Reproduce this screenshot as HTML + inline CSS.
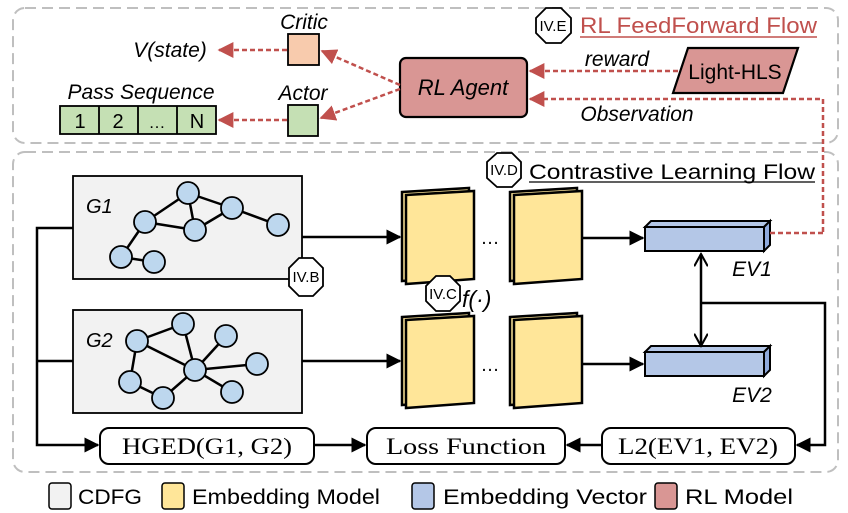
<!DOCTYPE html>
<html><head><meta charset="utf-8"><style>
html,body{margin:0;padding:0;background:#fff;}
svg{display:block;}
text{font-family:"Liberation Sans",sans-serif;}
.s{font-family:"Liberation Serif",serif;}
</style></head><body>
<svg width="848" height="513" viewBox="0 0 848 513" xmlns="http://www.w3.org/2000/svg">
<defs>
<marker id="ar" viewBox="0 0 10 10" refX="9" refY="5" markerWidth="16" markerHeight="16" markerUnits="userSpaceOnUse" orient="auto"><path d="M0,0 L10,5 L0,10 z" fill="#c0504d"/></marker>
<marker id="ab" viewBox="0 0 10 10" refX="9" refY="5" markerWidth="15" markerHeight="15" markerUnits="userSpaceOnUse" orient="auto"><path d="M0,0 L10,5 L0,10 z" fill="#000"/></marker>
<marker id="ao" viewBox="0 0 10 10" refX="9" refY="5" markerWidth="14" markerHeight="14" markerUnits="userSpaceOnUse" orient="auto"><path d="M0,0 L9,5 L0,10" fill="none" stroke="#000" stroke-width="1.5"/></marker>
</defs>
<rect x="13" y="8" width="825" height="135" rx="12" fill="none" stroke="#bfbfbf" stroke-width="2" stroke-dasharray="11,6"/>
<rect x="13" y="152" width="825" height="320" rx="12" fill="none" stroke="#bfbfbf" stroke-width="2" stroke-dasharray="11,6"/>

<polygon points="546,8 561,8 571,18 571,33 561,43 546,43 536,33 536,18" fill="#fff" stroke="#000" stroke-width="1.8"/>
<text x="553" y="31" font-size="15" text-anchor="middle">IV.E</text>
<text x="580" y="33" font-size="22" fill="#c0504d" textLength="237" lengthAdjust="spacingAndGlyphs">RL FeedForward Flow</text>
<line x1="580" y1="37" x2="817" y2="37" stroke="#c0504d" stroke-width="1.5"/>

<rect x="400" y="58" width="127" height="59" rx="6" fill="#d99694" stroke="#000" stroke-width="2.2"/>
<text x="463" y="95" font-size="22" font-style="italic" text-anchor="middle">RL Agent</text>
<polygon points="688,48 798,48 783,93 673,93" fill="#d99694" stroke="#000" stroke-width="2.2"/>
<text x="735" y="79" font-size="21" text-anchor="middle">Light-HLS</text>
<line x1="678" y1="71" x2="530" y2="71" stroke="#c0504d" stroke-width="2.5" stroke-dasharray="5,3" marker-end="url(#ar)"/>
<text x="617" y="66" font-size="21" font-style="italic" text-anchor="middle">reward</text>
<polyline points="823,232 823,99 530,99" fill="none" stroke="#c0504d" stroke-width="2.5" stroke-dasharray="5,3" marker-end="url(#ar)"/>
<text x="637" y="121" font-size="21" font-style="italic" text-anchor="middle">Observation</text>

<rect x="288" y="34" width="31" height="31" fill="#f8cbad" stroke="#000" stroke-width="1.8"/>
<text x="304" y="29" font-size="21" font-style="italic" text-anchor="middle">Critic</text>
<rect x="288" y="105" width="30" height="31" fill="#c5e0b4" stroke="#000" stroke-width="1.8"/>
<text x="303" y="100" font-size="21" font-style="italic" text-anchor="middle">Actor</text>
<line x1="400" y1="85" x2="322" y2="51" stroke="#c0504d" stroke-width="2.5" stroke-dasharray="5,3" marker-end="url(#ar)"/>
<line x1="400" y1="89" x2="321" y2="118" stroke="#c0504d" stroke-width="2.5" stroke-dasharray="5,3" marker-end="url(#ar)"/>
<line x1="287" y1="50" x2="219" y2="50" stroke="#c0504d" stroke-width="2.5" stroke-dasharray="5,3" marker-end="url(#ar)"/>
<line x1="287" y1="120" x2="219" y2="120" stroke="#c0504d" stroke-width="2.5" stroke-dasharray="5,3" marker-end="url(#ar)"/>
<text x="170" y="57" font-size="21" font-style="italic" text-anchor="middle">V(state)</text>
<text x="141" y="99" font-size="21" font-style="italic" text-anchor="middle">Pass Sequence</text>
<rect x="60" y="106" width="156" height="28" fill="#c5e0b4" stroke="#000" stroke-width="1.8"/>
<line x1="99" y1="106" x2="99" y2="134" stroke="#000" stroke-width="1.8"/>
<line x1="138" y1="106" x2="138" y2="134" stroke="#000" stroke-width="1.8"/>
<line x1="177" y1="106" x2="177" y2="134" stroke="#000" stroke-width="1.8"/>
<text x="80" y="128" font-size="20" text-anchor="middle">1</text>
<text x="118" y="128" font-size="20" text-anchor="middle">2</text>
<text x="157" y="128" font-size="17" text-anchor="middle">…</text>
<text x="197" y="128" font-size="20" text-anchor="middle">N</text>

<polygon points="497,153 512,153 521,162 521,178 512,187 497,187 487,178 487,162" fill="#fff" stroke="#000" stroke-width="1.8"/>
<text x="504" y="175" font-size="15" text-anchor="middle">IV.D</text>
<text x="529" y="179" font-size="21" textLength="286" lengthAdjust="spacingAndGlyphs">Contrastive Learning Flow</text>
<line x1="529" y1="182" x2="815" y2="182" stroke="#000" stroke-width="1.2"/>

<rect x="73" y="176" width="229" height="103" fill="#f2f2f2" stroke="#000" stroke-width="1.8"/>
<rect x="73" y="310" width="229" height="103" fill="#f2f2f2" stroke="#000" stroke-width="1.8"/>
<text x="86" y="213" font-size="20" font-style="italic">G1</text>
<text x="86" y="347" font-size="20" font-style="italic">G2</text>
<g stroke="#000" stroke-width="2.5">
<line x1="145" y1="222" x2="188" y2="193"/><line x1="188" y1="193" x2="195" y2="230"/><line x1="145" y1="222" x2="195" y2="230"/>
<line x1="188" y1="193" x2="232" y2="208"/><line x1="195" y1="230" x2="232" y2="208"/><line x1="232" y1="208" x2="278" y2="225"/>
<line x1="145" y1="222" x2="121" y2="257"/><line x1="121" y1="257" x2="154" y2="262"/>
<line x1="137" y1="341" x2="183" y2="324"/><line x1="137" y1="341" x2="195" y2="370"/><line x1="183" y1="324" x2="195" y2="370"/>
<line x1="195" y1="370" x2="226" y2="336"/><line x1="195" y1="370" x2="257" y2="364"/><line x1="195" y1="370" x2="232" y2="392"/>
<line x1="137" y1="341" x2="130" y2="382"/><line x1="130" y1="382" x2="163" y2="398"/><line x1="163" y1="398" x2="195" y2="370"/>
</g>
<g fill="#bdd7ee" stroke="#000" stroke-width="1.8">
<circle cx="188" cy="193" r="11"/><circle cx="145" cy="222" r="11"/><circle cx="195" cy="230" r="11"/><circle cx="232" cy="208" r="11"/><circle cx="278" cy="225" r="11"/><circle cx="121" cy="257" r="11"/><circle cx="154" cy="262" r="11"/>
<circle cx="137" cy="341" r="11"/><circle cx="183" cy="324" r="11"/><circle cx="226" cy="336" r="11"/><circle cx="195" cy="370" r="11"/><circle cx="257" cy="364" r="11"/><circle cx="130" cy="382" r="11"/><circle cx="163" cy="398" r="11"/><circle cx="232" cy="392" r="11"/>
</g>
<polygon points="299,258 313,258 323,268 323,286 313,296 299,296 289,286 289,268" fill="#fff" stroke="#000" stroke-width="1.8"/>
<text x="306" y="282" font-size="15" text-anchor="middle">IV.B</text>

<polyline points="73,228 37,228 37,445 98,445" fill="none" stroke="#000" stroke-width="2.5" marker-end="url(#ab)"/>
<line x1="37" y1="361" x2="73" y2="361" stroke="#000" stroke-width="2.5"/>
<line x1="302" y1="237" x2="400" y2="237" stroke="#000" stroke-width="2.5" marker-end="url(#ab)"/>
<line x1="302" y1="361" x2="400" y2="361" stroke="#000" stroke-width="2.5" marker-end="url(#ab)"/>

<g stroke="#000" stroke-width="2.5" fill="#ffe699">
<polygon points="402,192 469,188 469,276 402,281"/><polygon points="406,195 474,191 474,279 406,284"/>
<polygon points="510,192 577,188 577,276 510,281"/><polygon points="514,195 582,191 582,279 514,284"/>
<polygon points="402,317 469,313 469,400 402,405"/><polygon points="406,320 474,316 474,403 406,408"/>
<polygon points="510,317 577,313 577,400 510,405"/><polygon points="514,320 582,316 582,403 514,408"/>
</g>
<text x="490" y="244" font-size="19" text-anchor="middle">…</text>
<text x="490" y="371" font-size="19" text-anchor="middle">…</text>
<polygon points="436,276 450,276 460,286 460,301 450,311 436,311 426,301 426,286" fill="#fff" stroke="#000" stroke-width="1.8"/>
<text x="443" y="299" font-size="15" text-anchor="middle">IV.C</text>
<text x="462" y="307" font-size="23" font-style="italic">f(·)</text>

<line x1="583" y1="238" x2="643" y2="238" stroke="#000" stroke-width="2.5" marker-end="url(#ab)"/>
<line x1="583" y1="364" x2="643" y2="364" stroke="#000" stroke-width="2.5" marker-end="url(#ab)"/>

<g stroke="#000" stroke-width="2">
<polygon points="645,227 651,221 770,221 764,227" fill="#b4c7e7"/>
<polygon points="764,227 770,221 770,245 764,251" fill="#8faadc"/>
<rect x="645" y="227" width="119" height="24" fill="#b4c7e7"/>
<polygon points="645,352 651,346 770,346 764,352" fill="#b4c7e7"/>
<polygon points="764,352 770,346 770,370 764,376" fill="#8faadc"/>
<rect x="645" y="352" width="119" height="24" fill="#b4c7e7"/>
</g>
<line x1="770" y1="233" x2="823" y2="233" stroke="#c0504d" stroke-width="2.5" stroke-dasharray="5,3"/>
<text x="752" y="276" font-size="21" font-style="italic" text-anchor="middle">EV1</text>
<text x="752" y="402" font-size="21" font-style="italic" text-anchor="middle">EV2</text>
<line x1="701" y1="300" x2="701" y2="254" stroke="#000" stroke-width="2.5" marker-end="url(#ao)"/>
<line x1="701" y1="300" x2="701" y2="346" stroke="#000" stroke-width="2.5" marker-end="url(#ao)"/>
<polyline points="701,303 825,303 825,445 797,445" fill="none" stroke="#000" stroke-width="2.5" marker-end="url(#ab)"/>

<rect x="100" y="428" width="214" height="36" rx="9" fill="#fff" stroke="#000" stroke-width="2"/>
<text class="s" x="207" y="454" font-size="23" text-anchor="middle" textLength="170" lengthAdjust="spacingAndGlyphs">HGED(G1, G2)</text>
<rect x="367" y="428" width="198" height="36" rx="9" fill="#fff" stroke="#000" stroke-width="2"/>
<text class="s" x="466" y="454" font-size="23" text-anchor="middle" textLength="160" lengthAdjust="spacingAndGlyphs">Loss Function</text>
<rect x="602" y="428" width="193" height="36" rx="9" fill="#fff" stroke="#000" stroke-width="2"/>
<text class="s" x="698" y="454" font-size="23" text-anchor="middle" textLength="160" lengthAdjust="spacingAndGlyphs">L2(EV1, EV2)</text>
<line x1="314" y1="445" x2="365" y2="445" stroke="#000" stroke-width="2.5" marker-end="url(#ab)"/>
<line x1="602" y1="445" x2="567" y2="445" stroke="#000" stroke-width="2.5" marker-end="url(#ab)"/>

<g stroke="#000" stroke-width="1.5">
<rect x="49" y="483" width="22" height="26" rx="3" fill="#f2f2f2"/>
<rect x="162" y="483" width="22" height="26" rx="3" fill="#ffe699"/>
<rect x="412" y="483" width="22" height="26" rx="3" fill="#b4c7e7"/>
<rect x="655" y="483" width="22" height="26" rx="3" fill="#d99694"/>
</g>
<g font-size="21">
<text x="78" y="504" textLength="64" lengthAdjust="spacingAndGlyphs">CDFG</text>
<text x="192" y="504" textLength="188" lengthAdjust="spacingAndGlyphs">Embedding Model</text>
<text x="443" y="504" textLength="204" lengthAdjust="spacingAndGlyphs">Embedding Vector</text>
<text x="685" y="504" textLength="108" lengthAdjust="spacingAndGlyphs">RL Model</text>
</g>
</svg>
</body></html>
